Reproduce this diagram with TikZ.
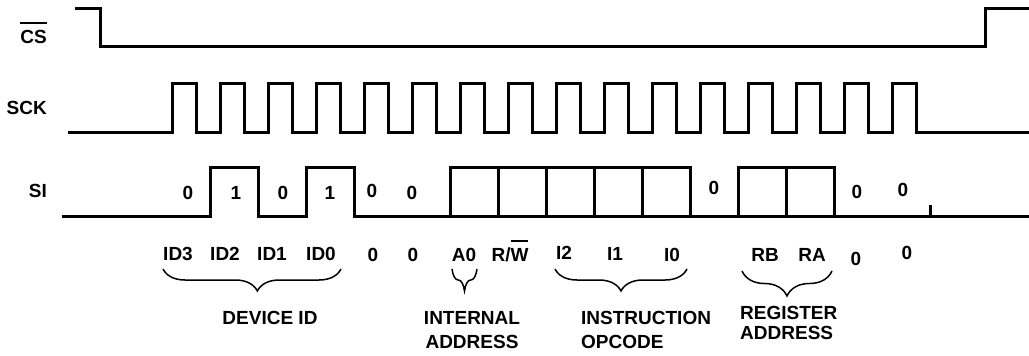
\documentclass[tikz,border=0pt]{standalone}
\usepackage{fontspec}
\setmainfont{Liberation Sans}
\usepackage{tikz}
\usetikzlibrary{decorations.pathreplacing}
\newsavebox\ovbox
\newcommand{\ovbar}[1]{\sbox\ovbox{#1}\rlap{\raisebox{1.02em}{\rule{\wd\ovbox}{2pt}}}\usebox\ovbox}

\begin{document}
\begin{tikzpicture}[x=1pt,y=-1pt,
	sig/.style={line width=3pt},
	brc/.style={decorate,decoration={brace,mirror,amplitude=22pt},line width=1.5pt},
	lbl/.style={font=\fontsize{19}{24}\selectfont\bfseries,inner sep=0pt}]
\useasboundingbox (0,0) rectangle (1029,356);
	% Signal names
\node (cslbl) [lbl,anchor=base east] at (47,43) {\ovbar{CS}};
\node (scklbl) [lbl,anchor=east] at (47,108) {SCK};
\node (silbl) [lbl,anchor=east] at (47,191) {SI};

	% CS
\draw [sig] (75,8) -- (100,8) -- (100,46) -- (985,46) -- (985,8) -- (1029,8);

	% SCK
\draw [sig] (68,132) -- (172,132)
	\foreach \k in {0,...,15} { -- ({172+48*\k},132) -- ({172+48*\k},83) -- ({196+48*\k},83) -- ({196+48*\k},132) }
	-- (1029,132);

	% SI
\draw [sig] (62,216) -- (210,216) -- (210,167) -- (258,167) -- (258,216) -- (306,216) -- (306,167) -- (354,167) -- (354,216) -- (1029,216);
\draw [sig] (450,216) -- (450,167) -- (690,167) -- (690,216);
\foreach \x in {498,546,594,642} \draw [sig] (\x,167) -- (\x,216);
\draw [sig] (738,216) -- (738,167) -- (834,167) -- (834,216);
\draw [sig] (786,167) -- (786,216);
\draw [sig] (930,216) -- (930,205);

\node (si0) [lbl] at (188,193) {0};
\node (si1) [lbl] at (236,193) {1};
\node (si2) [lbl] at (283,193) {0};
\node (si3) [lbl] at (330,193) {1};
\node (si4) [lbl] at (372,191) {0};
\node (si5) [lbl] at (412,193) {0};
\node (si6) [lbl] at (714,188) {0};
\node (si7) [lbl] at (857,192) {0};
\node (si8) [lbl] at (903,190) {0};

	% Bit names
\node (id3) [lbl] at (178,254) {ID3};
\node (id2) [lbl] at (225,254) {ID2};
\node (id1) [lbl] at (272,254) {ID1};
\node (id0) [lbl] at (321,254) {ID0};
\node (z1) [lbl] at (373,255) {0};
\node (z2) [lbl] at (413,255) {0};
\node (a0) [lbl] at (464,255) {A0};
\node (rw) [lbl,anchor=base] at (510,261) {R/\ovbar{W}};
\node (i2) [lbl] at (564,253) {I2};
\node (i1) [lbl] at (615,254) {I1};
\node (i0) [lbl] at (672,255) {I0};
\node (rb) [lbl] at (765,255) {RB};
\node (ra) [lbl] at (812,255) {RA};
\node (z3) [lbl] at (856,259) {0};
\node (z4) [lbl] at (907,253) {0};

	% Groups
\draw [brc,decoration={aspect=0.53}] (163,269) -- (341,269);
\draw [brc] (452,269) -- (477,269);
\draw [brc] (555,269) -- (687,269);
\draw [brc,decoration={amplitude=25pt}] (742,271) -- (832,271);
\node (devid) [lbl] at (270,318) {DEVICE ID};
\node (intaddr) [lbl,align=center] at (472,330) {INTERNAL\\ADDRESS};
\node (opcode) [lbl,align=left,anchor=west] at (581,330) {INSTRUCTION\\OPCODE};
\node (regaddr) [lbl,align=left,anchor=west] at (740,323) {REGISTER\\[-4pt]ADDRESS};
\end{tikzpicture}
\end{document}
